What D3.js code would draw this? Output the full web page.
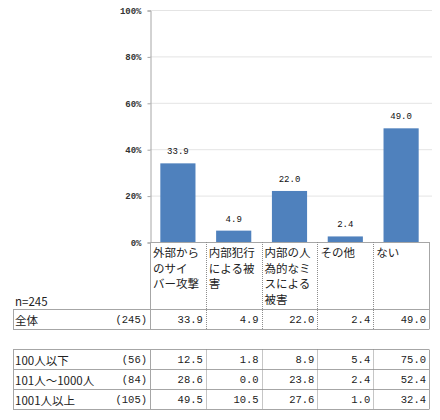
<!DOCTYPE html>
<html>
<head>
<meta charset="utf-8">
<script src="https://cdn.jsdelivr.net/npm/d3@7"></script>
<style>
  body { margin: 0; background: #fff; }
  svg { display: block; }
</style>
</head>
<body>
<div class="plot-container"></div>
<script>
// data
const categories = ["外部からのサイバー攻撃", "内部犯行による被害", "内部の人為的なミスによる被害", "その他", "ない"];
const categoryLines = [
  ["外部から", "のサイ", "バー攻撃"],
  ["内部犯行", "による被", "害"],
  ["内部の人", "為的なミ", "スによる", "被害"],
  ["その他"],
  ["ない"]
];
const totalLabel = "全体";
const totalN = 245;
const totalValues = [33.9, 4.9, 22.0, 2.4, 49.0];
const groupLabels = ["100人以下", "101人～1000人", "1001人以上"];
const groupN = [56, 84, 105];
const groupValues = [
  [12.5, 1.8, 8.9, 5.4, 75.0],
  [28.6, 0.0, 23.8, 2.4, 52.4],
  [49.5, 10.5, 27.6, 1.0, 32.4]
];
const yTicks = [0, 20, 40, 60, 80, 100];

const width = 440, height = 420;
const JP_FONT = "'Noto Sans CJK JP', sans-serif";
const NUM_FONT = "'Liberation Mono', 'DejaVu Sans Mono', monospace";
const BAR_COLOR = "#4f81bd";
const LINE_COLOR = "#a6a6a6";
const GRID_COLOR = "#e4e4e4";

const svg = d3.select("div.plot-container").append("svg")
  .attr("width", width)
  .attr("height", height);

const tableLeft = 13, labelRight = 150, tableRight = 429;

const x = d3.scaleBand()
  .domain(categories)
  .range([labelRight, tableRight]);

const y = d3.scaleLinear()
  .domain([0, 100])
  .range([242, 10]);

// gridlines
svg.append("g")
  .selectAll("line")
  .data(yTicks.filter(d => d > 0))
  .enter()
  .append("line")
  .attr("x1", labelRight)
  .attr("x2", 432)
  .attr("y1", d => y(d) + 0.5)
  .attr("y2", d => y(d) + 0.5)
  .attr("stroke", GRID_COLOR);

// y axis
const yAxis = d3.axisLeft(y)
  .tickValues(yTicks)
  .tickSize(3)
  .tickFormat(d => d + "%");
const yAxisG = svg.append("g")
  .attr("transform", `translate(${labelRight + 0.5},0.5)`)
  .call(yAxis);
yAxisG.select(".domain").attr("stroke", LINE_COLOR);
yAxisG.selectAll(".tick line").attr("stroke", LINE_COLOR);
yAxisG.selectAll(".tick text")
  .attr("x", -9)
  .style("font-family", NUM_FONT)
  .style("font-size", "9px")
  .style("font-weight", "bold")
  .attr("fill", "#333");

// bars
const barW = x.bandwidth() * 0.63;
svg.append("g")
  .selectAll("rect")
  .data(totalValues)
  .enter()
  .append("rect")
  .attr("x", (d, i) => x(categories[i]) + (x.bandwidth() - barW) / 2)
  .attr("y", d => y(d))
  .attr("width", barW)
  .attr("height", d => y(0) - y(d))
  .attr("fill", BAR_COLOR);

// bar labels
svg.append("g")
  .selectAll("text")
  .data(totalValues)
  .enter()
  .append("text")
  .attr("x", (d, i) => x(categories[i]) + x.bandwidth() / 2)
  .attr("y", d => y(d) - 9)
  .attr("text-anchor", "middle")
  .style("font-family", NUM_FONT)
  .style("font-size", "9px")
  .attr("fill", "#111")
  .text(d => d.toFixed(1));

// table header labels
const header = svg.append("g");
categoryLines.forEach((lines, i) => {
  header.append("text")
    .attr("x", x(categories[i]) + 3)
    .attr("y", 257)
    .style("font-family", JP_FONT)
    .style("font-size", "11.5px")
    .attr("fill", "#222")
    .selectAll("tspan")
    .data(lines)
    .enter()
    .append("tspan")
    .attr("x", x(categories[i]) + 3)
    .attr("dy", (d, j) => j === 0 ? 0 : 15.5)
    .text(d => d);
});

svg.append("text")
  .attr("x", 15)
  .attr("y", 306)
  .style("font-family", JP_FONT)
  .style("font-size", "11.5px")
  .attr("fill", "#222")
  .text("n=" + totalN);

const rowH = 20;
const rows = [{ label: totalLabel, n: totalN, values: totalValues, top: 309.5 }]
  .concat(groupLabels.map((g, i) => ({ label: g, n: groupN[i], values: groupValues[i], top: 349.5 + i * rowH })));

const table = svg.append("g");

// row text
rows.forEach(r => {
  const cy = r.top + rowH / 2;
  table.append("text")
    .attr("x", 15)
    .attr("y", cy)
    .attr("dominant-baseline", "central")
    .style("font-family", JP_FONT)
    .style("font-size", "11.5px")
    .attr("fill", "#222")
    .text(r.label);
  table.append("text")
    .attr("x", 147)
    .attr("y", cy + 0.5)
    .attr("dominant-baseline", "central")
    .attr("text-anchor", "end")
    .style("font-family", NUM_FONT)
    .style("font-size", "10.5px")
    .attr("fill", "#222")
    .text(`(${r.n})`);
  table.selectAll(null)
    .data(r.values)
    .enter()
    .append("text")
    .attr("x", (d, i) => x(categories[i]) + x.bandwidth() - 3)
    .attr("y", cy + 0.5)
    .attr("dominant-baseline", "central")
    .attr("text-anchor", "end")
    .style("font-family", NUM_FONT)
    .style("font-size", "10.5px")
    .attr("fill", "#222")
    .text(d => d.toFixed(1));
});

// table lines
function hline(x1, x2, yy) {
  table.append("line").attr("x1", x1).attr("x2", x2).attr("y1", yy).attr("y2", yy)
    .attr("stroke", LINE_COLOR);
}
function vline(xx, y1, y2, dotted) {
  table.append("line").attr("x1", xx).attr("x2", xx).attr("y1", y1).attr("y2", y2)
    .attr("stroke", dotted ? "#8c8c8c" : LINE_COLOR)
    .attr("stroke-dasharray", dotted ? "1,1" : null);
}

// header box
hline(labelRight, tableRight, y(0) + 0.5);
vline(labelRight + 0.5, y(0), 329.5, false);
vline(tableRight + 0.5, y(0), 329.5, false);
categories.slice(1).forEach(c => vline(Math.round(x(c)) + 0.5, y(0), 329.5, true));

// total row box
hline(tableLeft, tableRight, 309.5);
hline(tableLeft, tableRight, 329.5);
vline(tableLeft + 0.5, 309.5, 329.5, false);

// group box
const gTop = 349.5, gBottom = 349.5 + groupLabels.length * rowH;
d3.range(groupLabels.length + 1).forEach(i => hline(tableLeft, tableRight, gTop + i * rowH));
vline(tableLeft + 0.5, gTop, gBottom, false);
vline(labelRight + 0.5, gTop, gBottom, false);
vline(tableRight + 0.5, gTop, gBottom, false);
categories.slice(1).forEach(c => vline(Math.round(x(c)) + 0.5, gTop, gBottom, true));
</script>
</body>
</html>
